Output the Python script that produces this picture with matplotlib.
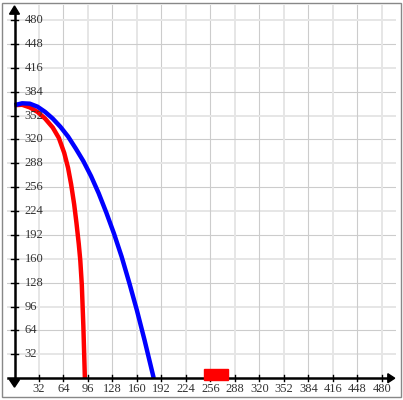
import matplotlib
matplotlib.use("Agg")
import matplotlib.pyplot as plt
from matplotlib.patches import Rectangle

# data
ticks = [32, 64, 96, 128, 160, 192, 224, 256, 288, 320, 352, 384, 416, 448, 480]
blue_x = [0, 10, 20, 30, 40, 50, 60, 70, 80, 90, 100, 110, 120, 130, 140, 150, 160, 170, 182]
blue_y = [366, 368.5, 368, 364, 357, 348, 337, 324, 308, 291, 271, 248, 222, 194, 163, 128, 91, 51, 0]
red_x = [0, 10, 20, 30, 40, 50, 58, 65, 70, 74, 78, 81, 84, 86, 88, 90, 92]
red_y = [366, 366.5, 363, 357, 348, 336, 322, 302, 282, 260, 233, 208, 180, 158, 125, 70, 0]
rect_x, rect_y, rect_w, rect_h = 248, -3, 31, 16

W, H = 403, 400
fig = plt.figure(figsize=(W / 100, H / 100), dpi=100)

# pixel geometry
x0px, sx = 14.5, 0.765
y0px, sy = 378.2, 0.746
left_px, right_px, top_px = 7, 396, 5
xmin = (left_px - x0px) / sx
xmax = (right_px - x0px) / sx
ymax = (y0px - top_px) / sy
ax = fig.add_axes([left_px / W, 1 - y0px / H, (right_px - left_px) / W, (y0px - top_px) / H])
ax.set_xlim(xmin, xmax)
ax.set_ylim(0, ymax)
ax.axis("off")

# grid
for t in ticks:
    if t % 64 == 0:
        c, lw = "#cccccc", 0.8
    else:
        c, lw = "#e6e6e6", 1.4
    ax.axvline(t, color=c, lw=lw, zorder=1)
    ax.axhline(t, color=c, lw=lw, zorder=1)

# curves
ax.plot(red_x, red_y, color="#ff0000", lw=3.2, zorder=3, solid_capstyle="butt")
ax.plot(blue_x, blue_y, color="#0000ff", lw=3.2, zorder=4, solid_capstyle="butt")

# axes lines
ax.plot([-9, 488], [0, 0], color="black", lw=1.8, zorder=5, clip_on=False)
ax.plot([0, 0], [-4, 488], color="black", lw=1.8, zorder=5, clip_on=False)
ax.fill([488, 488, 497], [-6, 6, 0], color="black", zorder=5, clip_on=False)
ax.fill([-6.5, 6.5, 0], [488, 488, 499], color="black", zorder=5, clip_on=False)
ax.fill([-6.5, 6.5, 0], [-2, -2, -12], color="black", zorder=5, clip_on=False)

for t in ticks:
    ax.plot([t, t], [-4, 4], color="black", lw=1.0, zorder=5, clip_on=False)
    ax.plot([-4, 4], [t, t], color="black", lw=1.0, zorder=5, clip_on=False)
    ax.text(t, -6, str(t), ha="center", va="top", fontsize=9,
            family="Liberation Serif", color="#333333", clip_on=False)
    ax.text(13.5, t, str(t), ha="left", va="center", fontsize=9,
            family="Liberation Serif", color="#333333", clip_on=False)

ax.add_patch(Rectangle((rect_x, rect_y), rect_w, rect_h, color="#ff0000", zorder=6, clip_on=False))

# outer frame
fig.add_artist(Rectangle((2 / W, 3 / H), (W - 4) / W, (H - 6) / H, transform=fig.transFigure,
                         fill=False, edgecolor="#888888", lw=1.0))

fig.savefig("out.png", dpi=100)
